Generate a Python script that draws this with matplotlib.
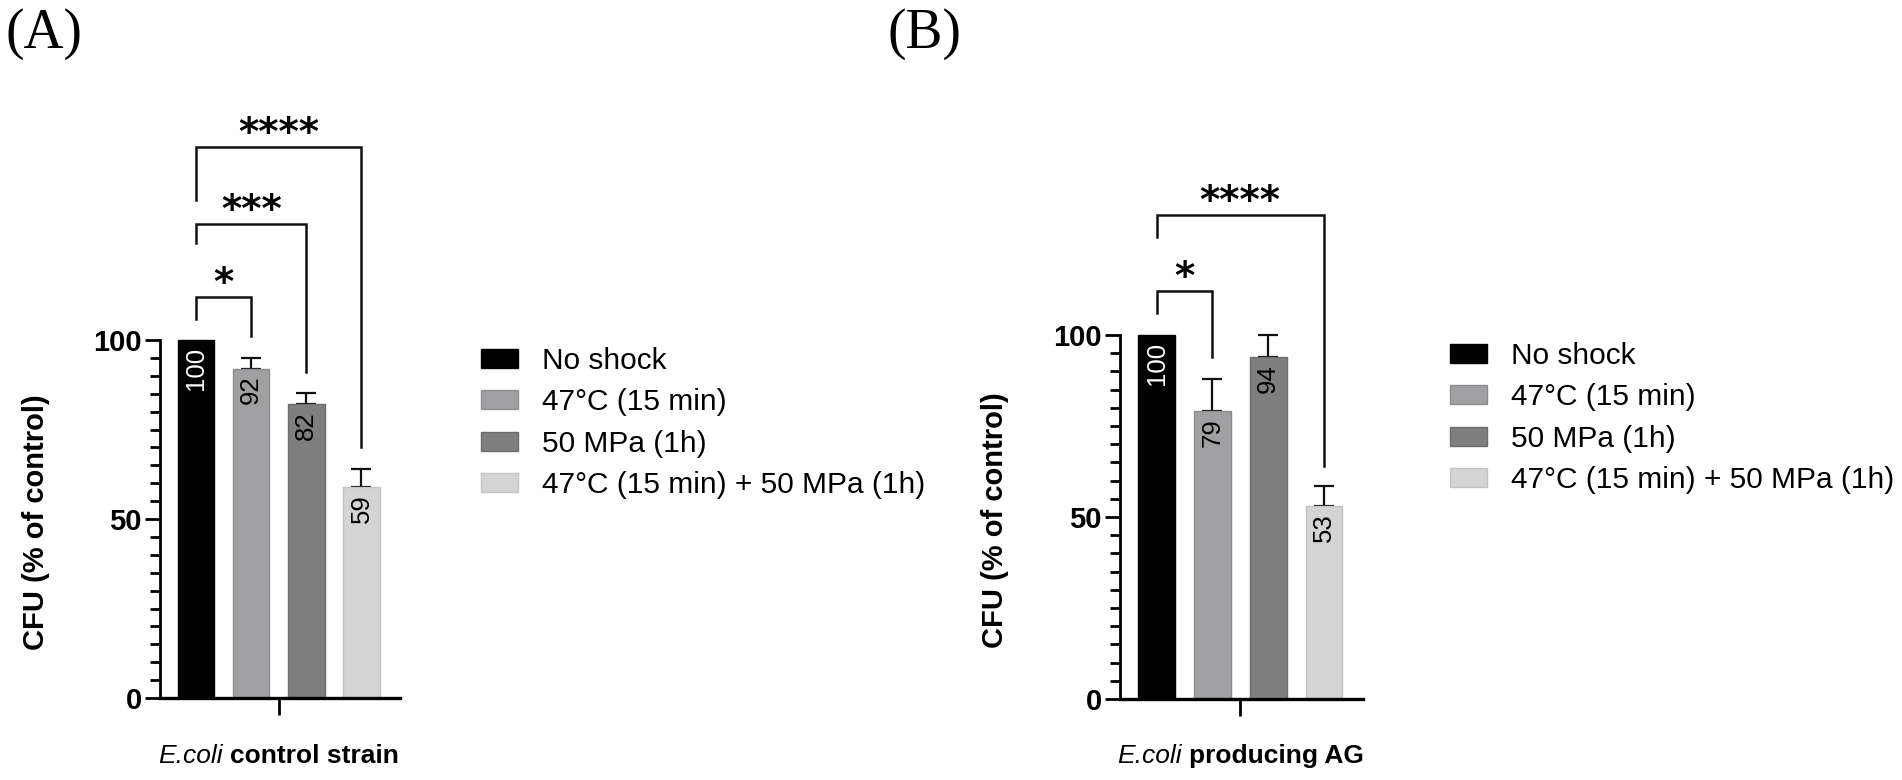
import matplotlib
matplotlib.use("Agg")
from matplotlib import pyplot as plt
from matplotlib.ticker import FixedLocator

plt.rcParams['font.family'] = ['Liberation Sans', 'DejaVu Sans']

# data
groups = ['No shock', '47°C (15 min)', '50 MPa (1h)', '47°C (15 min) + 50 MPa (1h)']
colors = ['#000000', '#a0a0a3', '#7f7f7f', '#d4d4d4']
edges = ['#000000', '#8c8c8f', '#6e6e6e', '#c4c4c4']

vals_a = [100, 92, 82, 59]
err_a = [0, 3, 3.3, 5]
vals_b = [100, 79, 94, 53]
err_b = [0, 9, 6, 5.5]

# (left bar, right bar, bracket height, left leg end, right leg end, stars)
sig_a = [(0, 1, 112, 106, 101, '*'),
         (0, 2, 132.5, 127, 91, '***'),
         (0, 3, 154, 139, 70, '****')]
sig_b = [(0, 1, 112, 106, 94, '*'),
         (0, 3, 133, 127, 64, '****')]

xlab_it = 'E.coli'
xlab_a = 'control strain'
xlab_b = 'producing AG'

W, H = 1902, 780
fig = plt.figure(figsize=(W / 100, H / 100), dpi=100)
renderer = fig.canvas.get_renderer()


def xlabel(ax, bold_part):
    # italic species name + bold rest, centred under the x tick
    xc, _ = fig.transFigure.inverted().transform(ax.transData.transform((1.5, 0)))
    y = 1 - 763 / H
    t1 = fig.text(0, y, xlab_it, style='italic', fontsize=19, va='baseline')
    t2 = fig.text(0, y, bold_part, fontweight='bold', fontsize=19, va='baseline')
    w1 = t1.get_window_extent(renderer).width
    w2 = t2.get_window_extent(renderer).width
    gap = 0.278 * 19 * 100 / 72
    x0 = xc * W - (w1 + gap + w2) / 2
    t1.set_x(x0 / W)
    t2.set_x((x0 + w1 + gap) / W)


def panel(rect, vals, errs, sigs, bold_part, leg_pos):
    ax = fig.add_axes(rect)
    xs = list(range(len(vals)))
    for i in xs:
        ax.bar(i, vals[i], width=0.66, color=colors[i], edgecolor=edges[i],
               linewidth=1, label=groups[i], zorder=2)
    ie = [i for i in xs if errs[i] > 0]
    ax.errorbar(ie, [vals[i] for i in ie], yerr=[[0] * len(ie), [errs[i] for i in ie]],
                fmt='none', ecolor='#111111', elinewidth=1.6, capsize=7, capthick=1.6, zorder=1)
    for i in xs:
        ax.text(i, vals[i] - 2, str(vals[i]), rotation=90, ha='center', va='top',
                fontsize=18.5, color='white' if i == 0 else 'black', zorder=3)
    for x1, x2, top, l1, l2, stars in sigs:
        ax.plot([x1, x1, x2, x2], [l1, top, top, l2], color='#111111', lw=1.8,
                clip_on=False, solid_joinstyle='miter')
        ax.text((x1 + x2) / 2, top + 0.6, stars, ha='center', va='baseline',
                fontsize=28, fontweight='bold', family='DejaVu Sans')

    ax.set_xlim(-0.655, 3.7)
    ax.set_ylim(0, 175)
    ax.set_yticks([0, 50, 100])
    ax.yaxis.set_minor_locator(FixedLocator([v for v in range(5, 100, 5) if v != 50]))
    ax.set_xticks([1.5])
    ax.set_xticklabels([''])
    ax.tick_params(axis='y', which='major', length=11, width=2, labelsize=21, pad=2)
    ax.tick_params(axis='y', which='minor', length=7, width=2)
    ax.tick_params(axis='x', length=12, width=2)
    plt.setp(ax.get_yticklabels(), fontweight='bold')
    for s in ('top', 'right'):
        ax.spines[s].set_visible(False)
    ax.spines['left'].set_bounds(0, 100)
    ax.spines['left'].set_linewidth(2)
    ax.spines['bottom'].set_linewidth(2.4)

    ax.set_ylabel('CFU (% of control)', fontsize=21, fontweight='bold')
    ax.yaxis.set_label_coords(-0.458, 0.281)
    xlabel(ax, bold_part)

    ax.legend(loc='upper left', bbox_to_anchor=leg_pos, bbox_transform=fig.transFigure,
              frameon=False, fontsize=21.5, handlelength=1.24, handleheight=0.6,
              handletextpad=0.8, labelspacing=0.45, borderpad=0, borderaxespad=0)
    return ax


panel([160 / W, 1 - 698 / H, 240 / W, 626.5 / H], vals_a, err_a, sig_a, xlab_a,
      (481 / W, 1 - 347 / H))
panel([1120 / W, 1 - 699 / H, 243 / W, 637 / H], vals_b, err_b, sig_b, xlab_b,
      (1450 / W, 1 - 342 / H))

fig.text(5 / W, 1 - 8 / H, '(A)', fontsize=40, family='Liberation Serif', va='top', ha='left')
fig.text(888 / W, 1 - 8 / H, '(B)', fontsize=40, family='Liberation Serif', va='top', ha='left')

fig.savefig('out.png', dpi=100, facecolor='white')
